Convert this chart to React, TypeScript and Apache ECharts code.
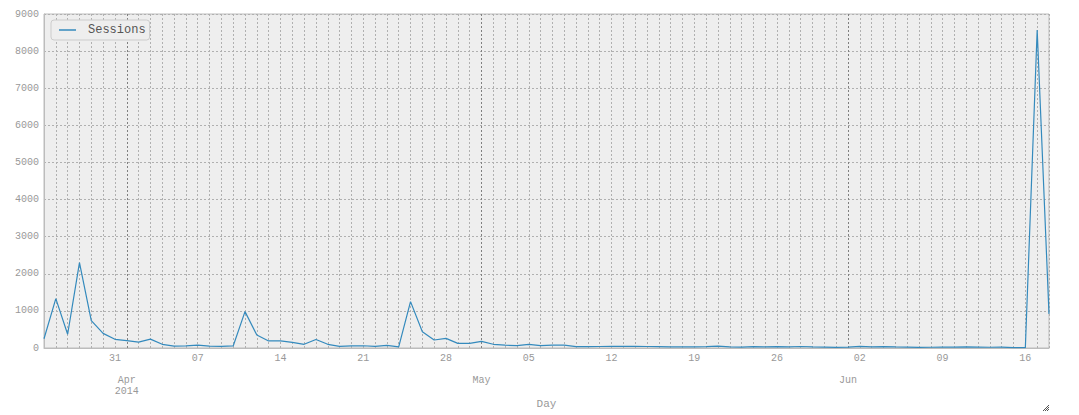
import React, { useEffect, useRef } from "react";
import * as echarts from "echarts";

const days: string[] = [
  "2014-03-25", "2014-03-26", "2014-03-27", "2014-03-28", "2014-03-29", "2014-03-30", "2014-03-31",
  "2014-04-01", "2014-04-02", "2014-04-03", "2014-04-04", "2014-04-05", "2014-04-06", "2014-04-07",
  "2014-04-08", "2014-04-09", "2014-04-10", "2014-04-11", "2014-04-12", "2014-04-13", "2014-04-14",
  "2014-04-15", "2014-04-16", "2014-04-17", "2014-04-18", "2014-04-19", "2014-04-20", "2014-04-21",
  "2014-04-22", "2014-04-23", "2014-04-24", "2014-04-25", "2014-04-26", "2014-04-27", "2014-04-28",
  "2014-04-29", "2014-04-30", "2014-05-01", "2014-05-02", "2014-05-03", "2014-05-04", "2014-05-05",
  "2014-05-06", "2014-05-07", "2014-05-08", "2014-05-09", "2014-05-10", "2014-05-11", "2014-05-12",
  "2014-05-13", "2014-05-14", "2014-05-15", "2014-05-16", "2014-05-17", "2014-05-18", "2014-05-19",
  "2014-05-20", "2014-05-21", "2014-05-22", "2014-05-23", "2014-05-24", "2014-05-25", "2014-05-26",
  "2014-05-27", "2014-05-28", "2014-05-29", "2014-05-30", "2014-05-31", "2014-06-01", "2014-06-02",
  "2014-06-03", "2014-06-04", "2014-06-05", "2014-06-06", "2014-06-07", "2014-06-08", "2014-06-09",
  "2014-06-10", "2014-06-11", "2014-06-12", "2014-06-13", "2014-06-14", "2014-06-15", "2014-06-16",
  "2014-06-17", "2014-06-18",
];

const sessions: number[] = [
  250, 1330, 370, 2300, 740, 395, 235,
  200, 160, 240, 100, 50, 55, 75,
  50, 45, 55, 980, 350, 190, 190,
  150, 100, 230, 100, 45, 55, 60,
  45, 70, 30, 1250, 440, 215, 260,
  125, 125, 180, 100, 75, 65, 100,
  65, 80, 80, 35, 38, 40, 42,
  45, 42, 40, 38, 30, 28, 32,
  35, 50, 30, 25, 35, 28, 35,
  30, 40, 30, 25, 15, 25, 45,
  30, 35, 28, 25, 15, 20, 22,
  25, 28, 25, 20, 22, 10, 8,
  8570, 920,
];

const monthLabels: Record<string, string> = {
  "2014-04-01": "Apr\n2014",
  "2014-05-01": "May",
  "2014-06-01": "Jun",
};

const yTicks = { min: 0, max: 9000, interval: 1000 };

const MONO = "'Liberation Mono', 'DejaVu Sans Mono', monospace";

const isMonday = (d: string) => new Date(d + "T00:00:00Z").getUTCDay() === 1;
const isMonthStart = (d: string) => d.slice(8) === "01";

export default function App() {
  const ref = useRef<HTMLDivElement>(null);
  useEffect(() => {
    if (!ref.current) return;
    const chart = echarts.init(ref.current, null, { renderer: "svg" });
    const dotted = { color: "#b0b0b0", width: 1, type: [2, 2] as any };
    chart.setOption({
      animation: false,
      backgroundColor: "#ffffff",
      grid: {
        left: 44,
        right: 30,
        top: 14,
        bottom: 67,
        show: true,
        backgroundColor: "#eeeeee",
        borderColor: "#bcbcbc",
        borderWidth: 1,
      },
      legend: {
        left: 51,
        top: 20,
        padding: [4, 4, 4, 8],
        backgroundColor: "#eeeeee",
        borderColor: "#cccccc",
        borderWidth: 1,
        borderRadius: 3,
        itemWidth: 17,
        itemHeight: 1.5,
        icon: "rect",
        textStyle: {
          fontFamily: MONO,
          fontSize: 12,
          color: "#555555",
          padding: [0, 0, 0, 7],
        },
        data: ["Sessions"],
      },
      xAxis: [
        {
          type: "category",
          data: days,
          boundaryGap: false,
          axisLine: { show: true, lineStyle: { color: "#bcbcbc" } },
          axisTick: { show: false },
          axisLabel: {
            interval: (i: number, v: string) => isMonday(v),
            formatter: (v: string) => v.slice(8),
            fontFamily: MONO,
            fontSize: 10,
            color: "#999999",
            margin: 5,
          },
          splitLine: { show: true, interval: 0, lineStyle: dotted },
          name: "Day",
          nameLocation: "middle",
          nameGap: 50,
          nameTextStyle: { fontFamily: MONO, fontSize: 11, fontWeight: "normal", color: "#999999" },
        },
        {
          type: "category",
          data: days,
          boundaryGap: false,
          position: "bottom",
          offset: 22,
          axisLine: { show: false },
          axisTick: { show: false },
          axisLabel: {
            interval: (i: number, v: string) => isMonthStart(v),
            formatter: (v: string) => monthLabels[v] || "",
            fontFamily: MONO,
            fontSize: 10,
            lineHeight: 11,
            color: "#999999",
            margin: 5,
          },
          splitLine: {
            show: true,
            interval: (i: number, v: string) => isMonthStart(v),
            lineStyle: { color: "#808080", width: 1, type: [2, 2] as any },
          },
        },
      ],
      yAxis: {
        type: "value",
        min: yTicks.min,
        max: yTicks.max,
        interval: yTicks.interval,
        axisLine: { show: true, lineStyle: { color: "#bcbcbc" } },
        axisTick: { show: false },
        axisLabel: {
          formatter: (v: number) => String(v),
          fontFamily: MONO,
          fontSize: 10,
          color: "#999999",
          margin: 5,
        },
        splitLine: { show: true, lineStyle: dotted },
      },
      series: [
        {
          name: "Sessions",
          type: "line",
          data: sessions,
          xAxisIndex: 0,
          showSymbol: false,
          symbol: "none",
          color: "#348abd",
          lineStyle: { color: "#348abd", width: 1.2 },
        },
      ],
      graphic: [
        { type: "line", shape: { x1: 1043, y1: 411, x2: 1049, y2: 405 }, style: { stroke: "#555", lineWidth: 1 } },
        { type: "line", shape: { x1: 1045, y1: 411, x2: 1049, y2: 407 }, style: { stroke: "#555", lineWidth: 1 } },
        { type: "line", shape: { x1: 1047, y1: 411, x2: 1049, y2: 409 }, style: { stroke: "#555", lineWidth: 1 } },
      ],
    });
    return () => chart.dispose();
  }, []);
  return (
    <div
      ref={ref}
      style={{ position: "fixed", left: 0, top: 0, width: 1079, height: 415 }}
    />
  );
}
